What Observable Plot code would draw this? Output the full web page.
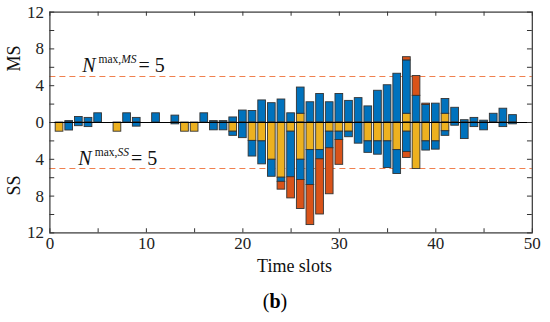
<!DOCTYPE html>
<html>
<head>
<meta charset="utf-8">
<script src="https://cdn.jsdelivr.net/npm/d3@7"></script>
<script src="https://cdn.jsdelivr.net/npm/@observablehq/plot@0.6"></script>
<style>
  html, body { margin: 0; padding: 0; background: #fff; }
  #chart { width: 550px; }
  #caption { width: 550px; height: 32px; text-align: center; font-family: "Liberation Serif", "Times New Roman", serif; font-weight: normal; font-size: 20px; line-height: 22px; box-sizing: border-box; }
</style>
</head>
<body>
<div id="chart"></div>
<div id="caption">(<b>b</b>)</div>
<script>
// Time slots 1..48
const slots = d3.range(1, 49);
// MS (upward) stacks: yellow (bottom), blue, red (top)
const msYellow = [0,0,0,0,0,0,0,0,0,0, 0,0,0,0,0,0,0,0,0,0, 0,0,0,0,0,0.95,0,0,0,0, 0,0,0,0,0,0,0.95,0,0,0, 0.95,0,0,0,0,0,0,0];
const msBlue   = [0,0.15,0.6,0.5,1.0,0,0,1.0,0.5,0, 1.0,0,0.75,0,0,1.0,0.15,0.15,0.55,1.3, 1.25,2.4,2.1,2.5,1.0,2.85,2.2,3.1,2.2,3.1, 2.35,2.65,1.75,3.45,4.05,5.3,5.8,2.9,1.9,2.05, 1.6,1.6,0.25,0.5,0.2,0.95,1.5,0.8];
const msRed    = [0,0,0,0,0,0,0,0,0,0, 0,0,0,0,0,0,0,0,0,0, 0,0,0,0,0,0,0,0,0,0, 0,0,0,0,0,0,0.35,2.15,0.15,0, 0,0,0,0,0,0,0,0];
// SS (downward) stacks: yellow (near zero), blue, red (far end)
const ssYellow = [1.0,0,0,0,0,0,1.0,0,0,0, 0,0,0,1.0,1.0,0,0,0,1.0,0, 2.0,2.05,4.05,6.0,1.0,4.05,3.0,3.0,1.0,1.0, 1.0,0,2.05,2.05,2.05,3.0,1.0,5.05,2.05,2.05, 0.95,0,0,0,0,0,0,0];
const ssBlue   = [0,0.87,0.4,0.5,0,0,0,0,0.45,0, 0,0,0.2,0,0,0,0.85,0.85,0.45,1.7, 1.7,2.5,1.85,0.45,4.95,2.2,3.8,1.0,1.8,0.9, 0.6,2.3,1.25,1.45,2.9,2.6,2.2,0,1.0,0.9, 0.5,0.35,1.8,0.5,0.85,0.05,0.5,0.2];
const ssRed    = [0,0,0,0,0,0,0,0,0,0, 0,0,0,0,0,0,0,0,0,0, 0,0,0,0.85,2.3,3.15,4.35,6.0,5.0,2.7, 0,0,0,0,0,0,0.65,0,0,0, 0,0,0,0,0,0,0,0];
const limits = [5, -5];
const yTickValues = [-12, -8, -4, 0, 4, 8, 12];
const xTickValues = [0, 10, 20, 30, 40, 50];

const BLUE = "#0072BD", YELLOW = "#EDB120", RED = "#D95319";

const segs = [];
slots.forEach((s, i) => {
  let y0 = 0;
  [[msYellow[i], YELLOW], [msBlue[i], BLUE], [msRed[i], RED]].forEach(([v, c]) => {
    if (v > 0) { segs.push({x: s, y1: y0, y2: y0 + v, c}); y0 += v; }
  });
  y0 = 0;
  [[ssYellow[i], YELLOW], [ssBlue[i], BLUE], [ssRed[i], RED]].forEach(([v, c]) => {
    if (v > 0) { segs.push({x: s, y1: y0, y2: y0 - v, c}); y0 -= v; }
  });
});

const minorY = d3.range(-12, 12.01, 2);
const minorX = d3.range(0, 50.01, 5);
const font = "Liberation Serif, Times New Roman, serif";

const plot = Plot.plot({
  width: 550,
  height: 290,
  marginLeft: 49.4,
  marginRight: 18.2,
  marginTop: 11.6,
  marginBottom: 57.6,
  style: {fontFamily: font, fontSize: "17px", color: "#222", background: "#fff"},
  x: {domain: [0, 50]},
  y: {domain: [-12, 12]},
  marks: [
    Plot.ruleY(limits, {x1: 0, x2: 50, stroke: "#F0804F", strokeWidth: 1.2, strokeDasharray: "6,4"}),
    Plot.rectY(segs, {x1: d => d.x - 0.4, x2: d => d.x + 0.4, y1: "y1", y2: "y2", fill: "c", stroke: "#333", strokeWidth: 0.9}),
    Plot.ruleY([0], {x1: 0, x2: 50, stroke: "#000", strokeWidth: 1.1}),
    // inner ticks
    Plot.ruleY(minorY, {x1: 0, x2: 0.5, stroke: "#333", strokeWidth: 1}),
    Plot.ruleY(minorY, {x1: 49.5, x2: 50, stroke: "#333", strokeWidth: 1}),
    Plot.ruleX(minorX, {y1: -12, y2: -11.55, stroke: "#333", strokeWidth: 1}),
    Plot.ruleX(minorX, {y1: 12, y2: 11.55, stroke: "#333", strokeWidth: 1}),
    Plot.frame({stroke: "#333", strokeWidth: 1.2}),
    Plot.axisY({ticks: yTickValues, tickSize: 0, tickPadding: 6, tickFormat: d => Math.abs(d), label: null, fontSize: 17}),
    Plot.axisX({ticks: xTickValues, tickSize: 0, tickPadding: 4, label: null, fontSize: 17}),
  ]
});

document.getElementById("chart").appendChild(plot);

// Extra text: axis titles and annotations, placed via the plot's scales
const sx = plot.scale("x"), sy = plot.scale("y");
const svg = d3.select(plot);
const g = svg.append("g").attr("font-family", font).attr("fill", "#111");

g.append("text").attr("x", sx.apply(25.4)).attr("y", sy.apply(-12) + 40)
  .attr("text-anchor", "middle").attr("font-size", 18).text("Time slots");

[["MS", 6.9], ["SS", -6.9]].forEach(([t, v]) => {
  g.append("text")
    .attr("transform", `translate(14,${sy.apply(v)}) rotate(-90)`)
    .attr("text-anchor", "middle").attr("dy", "0.35em").attr("font-size", 18).text(t);
});

function annot(xv, yv, sup) {
  const t = g.append("text").attr("text-anchor", "start")
    .attr("x", sx.apply(xv)).attr("y", sy.apply(yv)).attr("font-size", 20);
  t.append("tspan").attr("font-style", "italic").text("N");
  t.append("tspan").attr("dy", -9).attr("dx", 3).attr("font-size", 11.5).text("max,");
  t.append("tspan").attr("font-size", 11.5).attr("font-style", "italic").text(sup);
  t.append("tspan").attr("dy", 9).attr("dx", 2).text("= 5");
}
annot(3.4, 5.45, "MS");
annot(3.0, -4.7, "SS");
</script>
</body>
</html>
